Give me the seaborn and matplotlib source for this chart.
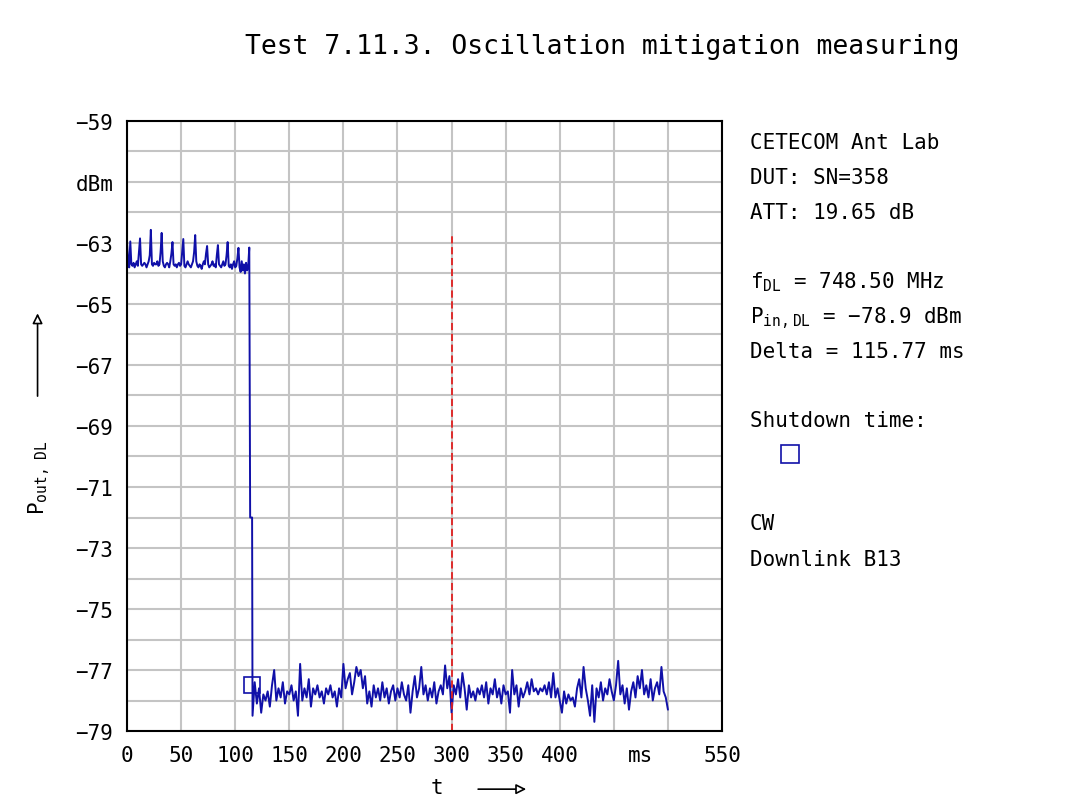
import numpy as np
import pandas as pd
import matplotlib
matplotlib.use('Agg')
import matplotlib.pyplot as plt
from matplotlib.lines import Line2D
import seaborn as sns

# --- Dados ---
# trecho ligado (0..113 ms, 1 ms por amostra)
t_on = np.arange(0, 114)
p_on = [
    -63.0, -63.6, -63.8, -62.95, -63.7, -63.75, -63.65, -63.8, -63.7, -63.6,
    -63.75, -63.3, -62.85, -63.7, -63.75, -63.7, -63.65, -63.7, -63.8, -63.7,
    -63.6, -63.4, -62.57, -63.7, -63.75, -63.65, -63.7, -63.7, -63.6, -63.75,
    -63.7, -63.3, -62.67, -63.6, -63.75, -63.8, -63.7, -63.65, -63.7, -63.8,
    -63.6, -63.35, -62.97, -63.7, -63.75, -63.7, -63.8, -63.7, -63.65, -63.75,
    -63.7, -63.3, -62.87, -63.75, -63.8, -63.7, -63.6, -63.7, -63.75, -63.8,
    -63.7, -63.6, -63.3, -62.74, -63.6, -63.75, -63.8, -63.7, -63.75, -63.85,
    -63.7, -63.6, -63.7, -63.35, -63.1, -63.7, -63.8, -63.75, -63.7, -63.6,
    -63.75, -63.7, -63.8, -63.4, -63.07, -63.7, -63.75, -63.8, -63.7, -63.6,
    -63.75, -63.7, -63.4, -62.97, -63.75, -63.8, -63.7, -63.85, -63.7, -63.6,
    -63.8, -63.75, -63.5, -63.16, -63.8, -63.95, -63.6, -63.9, -63.7, -64.0,
    -63.65, -63.9, -63.75, -63.15,
]
# queda
t_drop = [113.8, 115.6]
p_drop = [-72.0, -72.0]
# trecho desligado (116..500 ms, 2 ms por amostra)
t_off = np.arange(116, 501, 2)
p_off = [
    -78.5, -77.4, -78.1, -77.6, -78.4, -77.8, -78.0, -77.7, -78.2, -77.5,
    -77.0, -78.0, -77.6, -77.9, -77.4, -78.1, -77.7, -77.8, -77.5, -78.0,
    -77.7, -78.5, -76.8, -78.0, -77.6, -77.9, -77.3, -78.2, -77.6, -77.8,
    -77.5, -77.9, -77.7, -78.1, -77.6, -77.8, -77.5, -77.9, -77.7, -78.2,
    -77.6, -77.9, -76.8, -77.6, -77.3, -77.1, -77.8, -77.4, -76.9, -77.2,
    -77.0, -77.6, -77.2, -78.1, -77.7, -78.2, -77.5, -77.9, -77.6, -78.0,
    -77.4, -77.9, -77.6, -78.1, -77.7, -77.5, -78.0, -77.6, -77.9, -77.4,
    -77.8, -78.0, -77.5, -78.4, -77.7, -77.2, -77.9, -77.6, -76.9, -77.8,
    -77.5, -78.0, -77.6, -77.9, -77.4, -78.1, -77.7, -77.5, -77.8, -76.85,
    -77.6, -77.2, -78.4, -77.5, -77.8, -77.3, -77.9, -77.1, -77.6, -78.3,
    -77.5, -77.9, -77.7, -78.0, -77.6, -77.8, -77.5, -77.9, -77.4, -78.1,
    -77.6, -77.8, -77.3, -77.9, -77.6, -78.1, -77.5, -77.8, -77.7, -78.4,
    -77.0, -77.8, -77.5, -78.2, -77.6, -77.9, -77.7, -77.4, -77.8, -77.3,
    -77.7, -77.6, -77.8, -77.6, -77.7, -77.5, -77.8, -77.4, -77.9, -77.1,
    -77.9, -77.6, -78.0, -78.4, -77.7, -78.1, -77.8, -78.0, -77.9, -78.2,
    -77.6, -77.3, -77.9, -76.9, -77.6, -78.0, -78.5, -77.5, -78.7, -77.6,
    -77.9, -77.4, -78.0, -77.6, -77.8, -77.3, -77.7, -78.0, -77.5, -76.7,
    -77.8, -77.5, -78.1, -77.6, -78.3, -77.7, -77.4, -77.9, -77.2, -77.6,
    -77.0, -77.8, -77.5, -77.9, -77.3, -78.0, -77.6, -77.4, -77.8, -76.9,
    -77.7, -77.9, -78.3,
]

shutdown_t, shutdown_p = 115.77, -77.5
marker_t, marker_top = 300, -62.7

x_ticks = [0, 50, 100, 150, 200, 250, 300, 350, 400, 450, 500, 550]
x_labels = ['0', '50', '100', '150', '200', '250', '300', '350', '400', '', '', '550']
y_ticks = list(range(-79, -58))
y_labels = {-59: '−59', -61: 'dBm', -63: '−63', -65: '−65', -67: '−67', -69: '−69',
            -71: '−71', -73: '−73', -75: '−75', -77: '−77', -79: '−79'}

info_lines = [
    'CETECOM Ant Lab', 'DUT: SN=358', 'ATT: 19.65 dB',
    r'$\mathregular{f_{DL}}$ = 748.50 MHz',
    r'$\mathregular{P_{in,DL}}$ = −78.9 dBm',
    'Delta = 115.77 ms', 'Shutdown time:', 'CW', 'Downlink B13',
]
info_y = [0.822, 0.778, 0.735, 0.648, 0.604, 0.562, 0.476, 0.347, 0.303]

BLUE = '#1010a8'
RED = '#e02020'

sns.set_style('white')
plt.rcParams['font.family'] = ['DejaVu Sans Mono', 'DejaVu Sans']
plt.rcParams['font.size'] = 15
plt.rcParams['text.color'] = 'black'
plt.rcParams['xtick.color'] = 'black'
plt.rcParams['ytick.color'] = 'black'

df = pd.DataFrame({
    't': np.concatenate([t_on, t_drop, t_off]),
    'p': np.concatenate([p_on, p_drop, p_off]),
})

fig = plt.figure(figsize=(10.73, 8.03), dpi=100)
ax = fig.add_axes([0.1184, 0.0884, 0.5545, 0.7597])

sns.lineplot(data=df, x='t', y='p', sort=False, estimator=None,
             color=BLUE, lw=1.4, ax=ax)
ax.vlines(marker_t, -79, marker_top, color=RED, lw=1.3, linestyles=(0, (4, 2)))
ax.plot(shutdown_t, shutdown_p, marker='s', ms=11.5, mfc='none', mec=BLUE, mew=1.2)

ax.set_xlim(0, 550)
ax.set_ylim(-79, -59)
ax.set_xticks(x_ticks, x_labels)
ax.set_xticks([475], ['ms'], minor=True)
ax.set_yticks(y_ticks, [y_labels.get(v, '') for v in y_ticks])
ax.tick_params(which='both', length=0, pad=10, labelsize=15, labelcolor='black')
ax.grid(True, which='major', color='#c4c4c4', lw=1.5)
for s in ax.spines.values():
    s.set_color('black')
    s.set_linewidth(1.5)
ax.set_xlabel('')
ax.set_ylabel('')

fig.text(0.561, 0.9415, 'Test 7.11.3. Oscillation mitigation measuring',
         ha='center', va='center', fontsize=19, color='black')

for txt, y in zip(info_lines, info_y):
    fig.text(0.699, y, txt, ha='left', va='center', fontsize=15, color='black')
fig.add_artist(Line2D([0.736], [0.433], marker='s', ms=12.5, mfc='none',
                      mec=BLUE, mew=1.2, transform=fig.transFigure))

# rótulo do eixo y com seta
fig.text(0.037, 0.405, r'$\mathregular{P_{out,\ DL}}$', rotation=90,
         ha='center', va='center', fontsize=15, color='black')
fig.add_artist(matplotlib.patches.FancyArrowPatch(
    (0.035, 0.502), (0.035, 0.612), transform=fig.transFigure,
    arrowstyle='-|>,head_length=6,head_width=3', fc='white', ec='black', lw=1.2))

# rótulo do eixo x com seta
fig.text(0.407, 0.019, 't', ha='center', va='center', fontsize=15, color='black')
fig.add_artist(matplotlib.patches.FancyArrowPatch(
    (0.443, 0.016), (0.493, 0.016), transform=fig.transFigure,
    arrowstyle='-|>,head_length=6,head_width=3', fc='white', ec='black', lw=1.2))

plt.savefig('out.png', dpi=100, facecolor='white')
